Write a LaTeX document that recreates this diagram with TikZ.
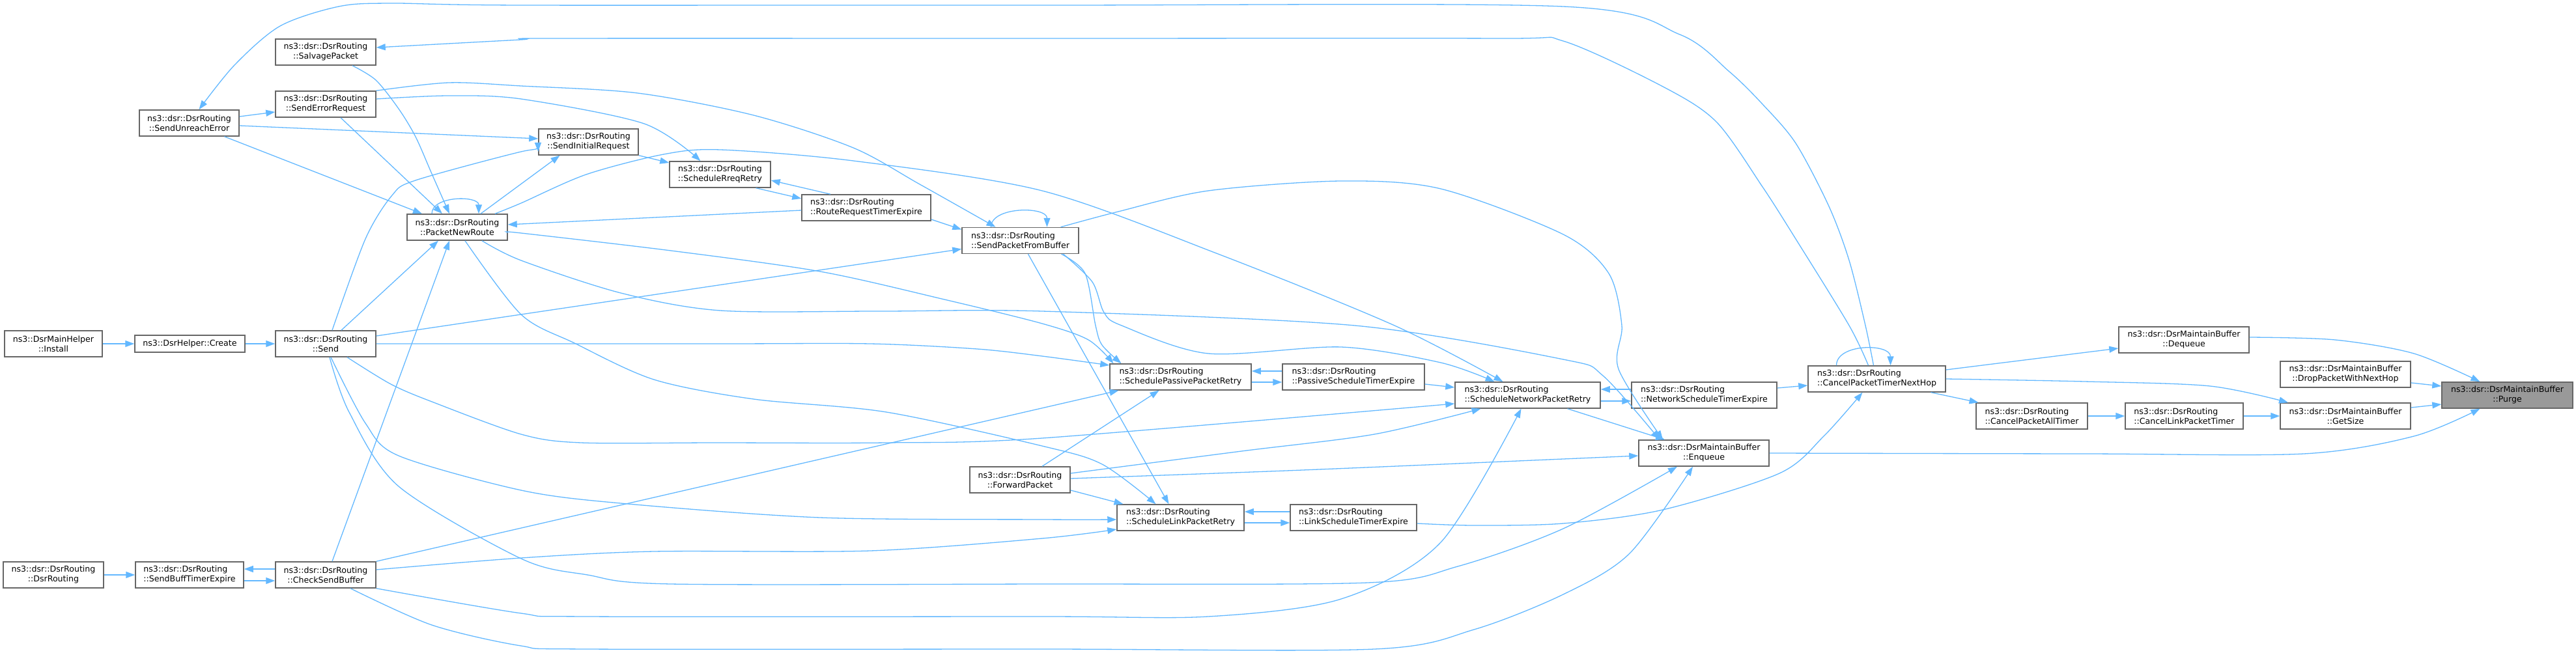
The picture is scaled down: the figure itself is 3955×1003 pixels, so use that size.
\documentclass[tikz,border=0pt]{standalone}
\usepackage{fontspec}
\setmainfont{DejaVu Sans}
\usetikzlibrary{arrows.meta}
\definecolor{edgec}{HTML}{63B8FF}
\definecolor{boxc}{HTML}{666666}
\definecolor{purgec}{HTML}{999999}
\begin{document}
\begin{tikzpicture}[x=1pt,y=-1pt,
  fn/.style={draw=boxc, line width=1.5pt, fill=white, inner sep=0pt,
    minimum height=40pt, align=center, font=\fontsize{12.6}{15}\selectfont},
  fnl/.style={fn, align=left},
  e/.style={draw=edgec, line width=1.3pt, -{Triangle[length=14pt,width=10pt]}}]
\useasboundingbox (0,0) rectangle (3955,1003);
% nodes
\node[fn, minimum width=150pt] (install) at (82,528) {ns3::DsrMainHelper\\::Install};
\node[fn, minimum width=169pt, minimum height=26pt] (create) at (291.5,528) {ns3::DsrHelper::Create};
\node[fn, minimum width=154pt] (send) at (500,528) {ns3::dsr::DsrRouting\\::Send};
\node[fn, minimum width=154pt] (dsrr) at (82,883) {ns3::dsr::DsrRouting\\::DsrRouting};
\node[fnl, minimum width=166pt] (sbte) at (291,883) {ns3::dsr::DsrRouting\\::SendBuffTimerExpire};
\node[fn, minimum width=154pt] (csb) at (500,883) {ns3::dsr::DsrRouting\\::CheckSendBuffer};
\node[fn, minimum width=153pt] (sue) at (290.5,189) {ns3::dsr::DsrRouting\\::SendUnreachError};
\node[fn, minimum width=154pt] (salv) at (500,80) {ns3::dsr::DsrRouting\\::SalvagePacket};
\node[fn, minimum width=154pt] (ser) at (500,160) {ns3::dsr::DsrRouting\\::SendErrorRequest};
\node[fn, minimum width=154pt] (pnr) at (702,349) {ns3::dsr::DsrRouting\\::PacketNewRoute};
\node[fn, minimum width=153pt] (sir) at (903.5,218) {ns3::dsr::DsrRouting\\::SendInitialRequest};
\node[fn, minimum width=155pt] (srr) at (1105.5,268) {ns3::dsr::DsrRouting\\::ScheduleRreqRetry};
\node[fnl, minimum width=198pt] (rrte) at (1330,319) {ns3::dsr::DsrRouting\\::RouteRequestTimerExpire};
\node[fnl, minimum width=179pt] (spfb) at (1566.5,369.5) {ns3::dsr::DsrRouting\\::SendPacketFromBuffer};
\node[fn, minimum width=154pt] (fwd) at (1566,737) {ns3::dsr::DsrRouting\\::ForwardPacket};
\node[fnl, minimum width=217pt] (spassive) at (1812.5,579) {ns3::dsr::DsrRouting\\::SchedulePassivePacketRetry};
\node[fnl, minimum width=218pt] (passivete) at (2078,579) {ns3::dsr::DsrRouting\\::PassiveScheduleTimerExpire};
\node[fnl, minimum width=223pt] (snet) at (2345.5,607) {ns3::dsr::DsrRouting\\::ScheduleNetworkPacketRetry};
\node[fnl, minimum width=195pt] (slink) at (1812.5,795) {ns3::dsr::DsrRouting\\::ScheduleLinkPacketRetry};
\node[fnl, minimum width=194pt] (linkte) at (2078,795) {ns3::dsr::DsrRouting\\::LinkScheduleTimerExpire};
\node[fnl, minimum width=223pt] (netste) at (2616.5,607) {ns3::dsr::DsrRouting\\::NetworkScheduleTimerExpire};
\node[fnl, minimum width=211pt] (cptnh) at (2881.5,582) {ns3::dsr::DsrRouting\\::CancelPacketTimerNextHop};
\node[fnl, minimum width=171pt] (cpall) at (3119.5,639) {ns3::dsr::DsrRouting\\::CancelPacketAllTimer};
\node[fn, minimum width=200pt] (enq) at (2616,696) {ns3::dsr::DsrMaintainBuffer\\::Enqueue};
\node[fn, minimum width=200pt] (deq) at (3353,522) {ns3::dsr::DsrMaintainBuffer\\::Dequeue};
\node[fn, minimum width=200pt] (drop) at (3601,575) {ns3::dsr::DsrMaintainBuffer\\::DropPacketWithNextHop};
\node[fn, minimum width=201pt, fill=purgec] (purge) at (3849.5,607) {ns3::dsr::DsrMaintainBuffer\\::Purge};
\node[fnl, minimum width=181pt] (cplink) at (3353.5,639) {ns3::dsr::DsrRouting\\::CancelLinkPacketTimer};
\node[fn, minimum width=200pt] (getsize) at (3601,639) {ns3::dsr::DsrMaintainBuffer\\::GetSize};
% edges
\draw[e] (install.east) -- (create.west);
\draw[e] (create.east) -- (send.west);
\draw[e] (dsrr.east) -- (sbte.west);
\draw[e] ([yshift=-9pt]sbte.east) -- ([yshift=-9pt]csb.west);
\draw[e] ([yshift=9pt]csb.west) -- ([yshift=9pt]sbte.east);
\draw[e] ([yshift=10pt]sue.east) -- ([yshift=-12pt]ser.west);
\draw[e] ([yshift=-4pt]sue.east) -- ([yshift=5pt]sir.west);
\draw[e] ([xshift=54pt]sue.south) -- ([xshift=-54pt]pnr.north);
\draw[e] plot[smooth] coordinates {([xshift=41pt]salv.south) (577,123) (612,167) (638,210) (663,267) ([xshift=-12pt]pnr.north)};
\draw[e] ([xshift=23pt]ser.south) -- ([xshift=-23pt]pnr.north);
\draw[e] plot[smooth] coordinates {(ser.north east) (689,127) (800,132) (979,143) (1157,177) (1310,227) (1412,283) ([xshift=-38pt]spfb.north)};
\draw[e] plot[smooth] coordinates {([yshift=8pt]ser.east) (689,147) (800,152) (989,190) ([xshift=-30pt]srr.north)};
\draw[e] plot[smooth] coordinates {([xshift=-5pt]cptnh.north) (2864,500) (2839,400) (2808,317) (2757,220) (2706,160) (2655,110) (2579,53) (2400,10) (1600,8) (800,8) (600,5) (520,10) (430,40) (360,100) ([xshift=15pt]sue.north)};
\draw[e] plot[smooth] coordinates {([xshift=-13pt]cptnh.north) (2839,500) (2757,367) (2706,287) (2635,187) (2553,133) (2400,63) (2300,59) (1600,59) (850,59) (800,61) ([yshift=7pt]salv.east)};
\draw[e] ([xshift=-39pt]pnr.north) .. controls +(0,-28) and +(0,-28) .. ([xshift=33pt]pnr.north);
\draw[e] ([xshift=36pt]pnr.north) -- ([xshift=-44pt]sir.south);
\draw[e] plot[smooth] coordinates {([xshift=58pt]pnr.north) (800,312) (900,268) (1019,237) (1106,230) (1310,247) (1600,293) (1870,390) (2141,500) ([xshift=-38pt]snet.north)};
\draw[e] ([yshift=-4pt]rrte.west) -- ([yshift=4pt]pnr.east);
\draw[e] plot[smooth] coordinates {([yshift=-8pt]pnr.east) (800,358) (1030,385) (1259,417) (1450,460) (1600,497) (1671,522) ([xshift=-103pt]spassive.north)};
\draw[e] plot[smooth] coordinates {([xshift=38pt]pnr.south) (800,400) (953,450) (1106,477) (1350,478) (1600,478) (2080,500) (2400,552) (2461,577) ([xshift=-68pt]enq.north)};
\draw[e] plot[smooth] coordinates {([xshift=12pt]pnr.south) (800,483) (882,527) (1004,583) (1157,613) (1361,633) (1600,685) (1692,713) ([xshift=-38pt]slink.north)};
\draw[e] ([xshift=24pt]send.north) -- ([xshift=-29pt]pnr.south);
\draw[e] plot[smooth] coordinates {([xshift=10pt]send.north) (561,367) (602,300) (638,277) (800,233) ([yshift=-15pt]sir.west)};
\draw[e] ([xshift=10pt]csb.north) -- ([xshift=-12pt]pnr.south);
\draw[e] ([yshift=12pt]send.east) -- ([yshift=-13pt]spfb.west);
\draw[e] plot[smooth] coordinates {(send.east) (1100,528) (1336,528) (1500,536) (1600,547) ([yshift=18pt]spassive.west)};
\draw[e] plot[smooth] coordinates {([xshift=33pt]send.south) (600,590) (663,617) (800,667) (892,680) (1100,680) (1361,680) (1600,673) ([yshift=-13pt]snet.west)};
\draw[e] plot[smooth] coordinates {([xshift=8pt]send.south) (561,650) (612,700) (800,753) (953,773) (1259,795) (1600,798) ([yshift=-3pt]slink.west)};
\draw[e] plot[smooth] coordinates {([xshift=6pt]send.south) (536,633) (612,747) (800,858) (902,883) (1030,897) (1600,897) (2100,895) (2238,870) (2400,812) ([xshift=-41pt]enq.south)};
\draw[e] (csb.north east) -- ([xshift=-95pt]spassive.south);
\draw[e] plot[smooth] coordinates {([yshift=8pt]csb.east) (800,857) (1004,847) (1336,846) (1600,827) ([yshift=-18pt]slink.west)};
\draw[e] plot[smooth] coordinates {(csb.south east) (800,942) (902,947) (1600,947) (1855,947) (2059,920) (2212,833) ([xshift=-10pt]snet.south)};
\draw[e] plot[smooth] coordinates {([xshift=38pt]csb.south) (663,960) (800,992) (902,997) (1600,997) (2110,997) (2263,967) (2400,913) (2502,850) ([xshift=-17pt]enq.south)};
\draw[e] ([xshift=-45pt]spfb.north) .. controls +(0,-32) and +(0,-32) .. ([xshift=41pt]spfb.north);
\draw[e] plot[smooth] coordinates {([xshift=62pt]spfb.north) (1717,325) (1855,293) (2059,278) (2212,290) (2400,360) (2470,420) (2490,500) (2485,567) ([xshift=-63pt]enq.north)};
\draw[e] plot[smooth] coordinates {([xshift=63pt]spfb.south) (1666,420) (1682,500) (1692,530) ([xshift=-91pt]spassive.north)};
\draw[e] plot[smooth] coordinates {([xshift=66pt]spfb.south) (1677,433) (1695,480) (1722,500) (1855,543) (2059,533) (2212,557) ([xshift=-51pt]snet.north)};
\draw[e] ([xshift=12pt]spfb.south) -- ([xshift=-18pt]slink.north);
\draw[e] ([yshift=-18pt]rrte.east) -- ([yshift=17pt]spfb.west);
\draw[e] ([xshift=-55pt]rrte.north) -- ([yshift=-9pt]srr.east);
\draw[e] ([xshift=55pt]srr.south) -- ([yshift=14pt]rrte.west);
\draw[e] (sir.south east) -- ([yshift=18pt]srr.west);
\draw[e] ([yshift=-8pt]spassive.east) -- ([yshift=-8pt]passivete.west);
\draw[e] ([yshift=9pt]passivete.west) -- ([yshift=9pt]spassive.east);
\draw[e] ([yshift=-8pt]slink.east) -- ([yshift=-8pt]linkte.west);
\draw[e] ([yshift=9pt]linkte.west) -- ([yshift=9pt]slink.east);
\draw[e] ([yshift=-11pt]passivete.east) -- ([yshift=12pt]snet.west);
\draw[e] ([xshift=34pt]fwd.north) -- ([xshift=-33pt]spassive.south);
\draw[e] plot[smooth] coordinates {([yshift=10pt]fwd.east) (1906,693) (2110,667) ([xshift=-72pt]snet.south)};
\draw[e] plot[smooth] coordinates {([yshift=2pt]fwd.east) (2000,722) (2400,705) ([yshift=-4pt]enq.west)};
\draw[e] ([yshift=-16pt]fwd.east) -- ([xshift=-88pt]slink.north);
\draw[e] plot[smooth] coordinates {([yshift=-9pt]linkte.east) (2263,807) (2400,804) (2553,783) (2732,727) (2800,670) ([xshift=-22pt]cptnh.south)};
\draw[e] ([yshift=-9pt]snet.east) -- ([yshift=-9pt]netste.west);
\draw[e] ([yshift=9pt]netste.west) -- ([yshift=9pt]snet.east);
\draw[e] ([yshift=11pt]netste.east) -- ([yshift=-10pt]cptnh.west);
\draw[e] ([xshift=61pt]snet.south) -- ([xshift=-60pt]enq.north);
\draw[e] ([xshift=-62pt]cptnh.north) .. controls +(0,-34) and +(0,-34) .. ([xshift=21pt]cptnh.north);
\draw[e] ([xshift=83pt]cptnh.south) -- ([xshift=-82pt]cpall.north);
\draw[e] ([yshift=14pt]cptnh.east) -- ([yshift=-13pt]deq.west);
\draw[e] plot[smooth] coordinates {(cptnh.east) (3200,586) (3393,593) ([xshift=-88pt]getsize.north)};
\draw[e] (cpall.east) -- (cplink.west);
\draw[e] (cplink.east) -- (getsize.west);
\draw[e] ([yshift=13pt]getsize.east) -- ([yshift=-14pt]purge.west);
\draw[e] ([yshift=-13pt]drop.east) -- ([yshift=14pt]purge.west);
\draw[e] plot[smooth] coordinates {([yshift=4pt]deq.east) (3585,522) (3706,543) ([xshift=-42pt]purge.north)};
\draw[e] plot[smooth] coordinates {(enq.east) (3200,697) (3537,697) (3706,670) ([xshift=-42pt]purge.south)};
\end{tikzpicture}
\end{document}
